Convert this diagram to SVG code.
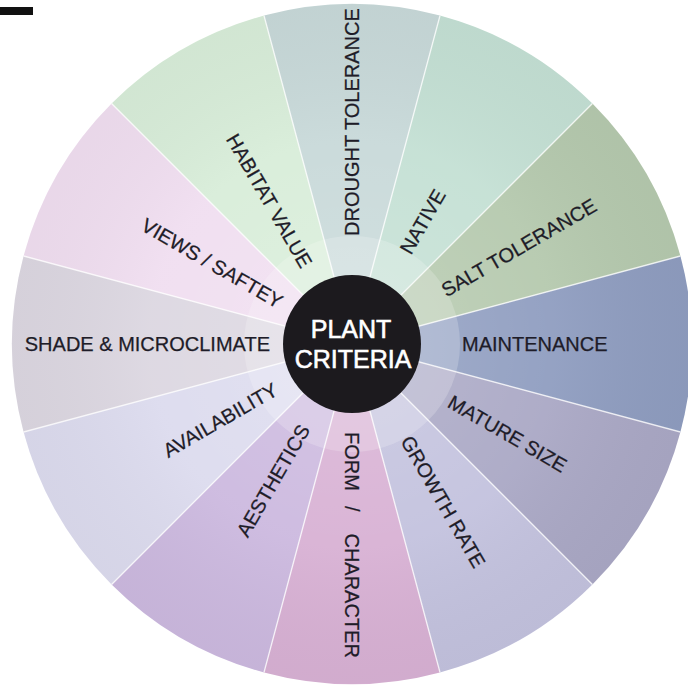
<svg xmlns="http://www.w3.org/2000/svg" width="688" height="687" viewBox="0 0 688 687">
<defs>
<style>
.lbl{font-family:"Liberation Sans","DejaVu Sans",Arial,sans-serif;font-size:20px;fill:#1e1c28;stroke:#1e1c28;stroke-width:0.25;}
.ctr{font-family:"Liberation Sans","DejaVu Sans",Arial,sans-serif;font-size:25px;fill:#ffffff;stroke:#ffffff;stroke-width:0.6;text-anchor:middle;}
.sep{stroke:#ffffff;stroke-width:1.4;stroke-opacity:0.75;fill:none;}
</style>
<radialGradient id="shade" cx="352" cy="344" r="340" gradientUnits="userSpaceOnUse">
<stop offset="0" stop-color="#ffffff" stop-opacity="0.18"/>
<stop offset="0.6" stop-color="#ffffff" stop-opacity="0.05"/>
<stop offset="1" stop-color="#000000" stop-opacity="0.03"/>
</radialGradient>
</defs>
<rect width="688" height="687" fill="#ffffff"/>
<rect x="0" y="7" width="33" height="8" fill="#111111"/>
<g id="sectors">
<path id="s-maintenance" d="M352 344 L680.42 256 A340 340 0 0 1 680.42 432 Z" fill="#8f9dc0"/>
<path id="s-mature" d="M352 344 L680.42 432 A340 340 0 0 1 592.42 584.42 Z" fill="#aaa8c5"/>
<path id="s-growth" d="M352 344 L592.42 584.42 A340 340 0 0 1 440 672.42 Z" fill="#c3c2de"/>
<path id="s-form" d="M352 344 L440 672.42 A340 340 0 0 1 264 672.42 Z" fill="#d8b1d4"/>
<path id="s-aesthetics" d="M352 344 L264 672.42 A340 340 0 0 1 111.58 584.42 Z" fill="#ccb9df"/>
<path id="s-availability" d="M352 344 L111.58 584.42 A340 340 0 0 1 23.58 432 Z" fill="#dcdbee"/>
<path id="s-shade" d="M352 344 L23.58 432 A340 340 0 0 1 23.58 256 Z" fill="#dcd7e1"/>
<path id="s-views" d="M352 344 L23.58 256 A340 340 0 0 1 111.58 103.58 Z" fill="#f0def0"/>
<path id="s-habitat" d="M352 344 L111.58 103.58 A340 340 0 0 1 264 15.58 Z" fill="#d8edd9"/>
<path id="s-drought" d="M352 344 L264 15.58 A340 340 0 0 1 440 15.58 Z" fill="#c8d9d9"/>
<path id="s-native" d="M352 344 L440 15.58 A340 340 0 0 1 592.42 103.58 Z" fill="#c4e0d4"/>
<path id="s-salt" d="M352 344 L592.42 103.58 A340 340 0 0 1 680.42 256 Z" fill="#b5c9ae"/>
<circle cx="352" cy="344" r="340" fill="url(#shade)"/>
<circle cx="352" cy="344" r="108" fill="#ffffff" fill-opacity="0.2"/>
</g>
<g id="connectors">
<path class="sep" d="M352 344 L680.42 256 M352 344 L680.42 432 M352 344 L592.42 584.42 M352 344 L440 672.42 M352 344 L264 672.42 M352 344 L111.58 584.42 M352 344 L23.58 432 M352 344 L23.58 256 M352 344 L111.58 103.58 M352 344 L264 15.58 M352 344 L440 15.58 M352 344 L592.42 103.58"/>
</g>
<g id="labels">
<g id="n-drought" transform="translate(352 344) rotate(-90)"><text class="lbl" x="108" y="7">DROUGHT TOLERANCE</text></g>
<g id="n-native" transform="translate(352 344) rotate(-60)"><text class="lbl" x="106" y="7">NATIVE</text></g>
<g id="n-salt" transform="translate(352 344) rotate(-30)"><text class="lbl" x="105" y="7">SALT TOLERANCE</text></g>
<g id="n-maintenance" transform="translate(352 344) rotate(0)"><text class="lbl" x="110" y="7">MAINTENANCE</text></g>
<g id="n-mature" transform="translate(352 344) rotate(30)"><text class="lbl" x="113" y="7">MATURE SIZE</text></g>
<g id="n-growth" transform="translate(352 344) rotate(60)"><text class="lbl" x="108" y="7">GROWTH RATE</text></g>
<g id="n-form" transform="translate(352 344) rotate(90)"><text class="lbl" x="88" y="7">FORM<tspan dx="15">/</tspan><tspan dx="22">CHARACTER</tspan></text></g>
<g id="n-aesthetics" transform="translate(352 344) rotate(-60)"><text class="lbl" x="-95" y="7" text-anchor="end">AESTHETICS</text></g>
<g id="n-availability" transform="translate(352 344) rotate(-30)"><text class="lbl" x="-88" y="7" text-anchor="end">AVAILABILITY</text></g>
<g id="n-shade" transform="translate(352 344) rotate(0)"><text class="lbl" x="-82" y="7" text-anchor="end">SHADE &amp; MICROCLIMATE</text></g>
<g id="n-views" transform="translate(352 344) rotate(30)"><text class="lbl" x="-82" y="7" text-anchor="end">VIEWS / SAFTEY</text></g>
<g id="n-habitat" transform="translate(352 344) rotate(60)"><text class="lbl" x="-90" y="7" text-anchor="end">HABITAT VALUE</text></g>
</g>
<g id="n-center">
<circle cx="352" cy="344" r="69" fill="#1c1a1e"/>
<text class="ctr" x="351" y="338">PLANT</text>
<text class="ctr" x="353" y="368">CRITERIA</text>
</g>
</svg>
